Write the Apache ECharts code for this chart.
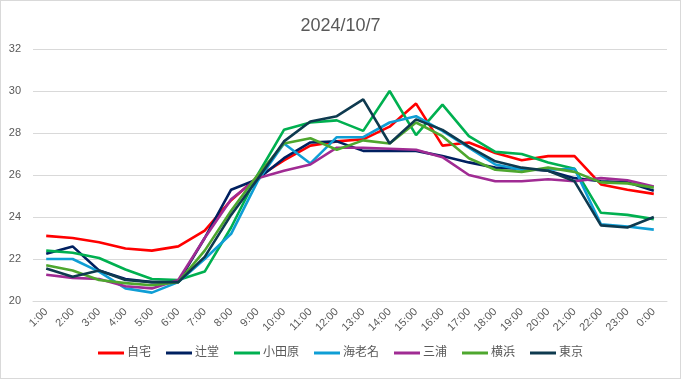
<!DOCTYPE html>
<html><head><meta charset="utf-8">
<script src="https://cdn.jsdelivr.net/npm/echarts@6/dist/echarts.min.js"></script>
<style>html,body{margin:0;padding:0;background:#fff}#c{width:681px;height:379px;box-sizing:border-box;border:1px solid #d9d9d9}</style>
</head><body><div id="c"></div>
<script>
const hours = ['1:00','2:00','3:00','4:00','5:00','6:00','7:00','8:00','9:00','10:00','11:00','12:00','13:00','14:00','15:00','16:00','17:00','18:00','19:00','20:00','21:00','22:00','23:00','0:00'];
const jitaku   = [23.1,23.0,22.8,22.5,22.4,22.6,23.35,24.8,25.9,26.7,27.4,27.6,27.7,28.3,29.4,27.4,27.55,27.05,26.7,26.9,26.9,25.55,25.3,25.1];
const tsujido  = [22.25,22.6,21.45,21.05,20.9,20.9,23.0,25.3,25.8,26.8,27.55,27.6,27.15,27.15,27.15,26.9,26.6,26.35,26.3,26.2,25.85,25.7,25.65,25.25];
const odawara  = [22.4,22.3,22.05,21.5,21.05,21.0,21.4,23.5,26.0,28.15,28.5,28.6,28.1,30.0,27.9,29.35,27.85,27.1,27.0,26.6,26.3,24.2,24.1,23.9];
const ebina    = [22.0,22.0,21.4,20.6,20.4,20.9,22.0,23.2,25.7,27.5,26.55,27.8,27.8,28.5,28.8,28.1,27.3,26.5,26.25,26.25,26.3,23.65,23.55,23.4];
const miura    = [21.25,21.1,21.05,20.7,20.6,21.0,23.0,24.85,25.85,26.2,26.5,27.3,27.3,27.25,27.2,26.85,26.0,25.7,25.7,25.8,25.7,25.85,25.75,25.45];
const yokohama = [21.7,21.45,21.0,20.85,20.75,20.9,22.4,24.3,26.0,27.5,27.75,27.2,27.65,27.5,28.5,27.85,26.8,26.25,26.15,26.35,26.15,25.65,25.6,25.4];
const tokyo    = [21.55,21.15,21.45,21.0,20.9,20.9,22.1,24.1,25.8,27.6,28.55,28.8,29.6,27.5,28.65,28.15,27.35,26.65,26.35,26.2,25.7,23.6,23.5,24.0];
const names  = ['自宅','辻堂','小田原','海老名','三浦','横浜','東京'];
const values = [jitaku,tsujido,odawara,ebina,miura,yokohama,tokyo];
const colors = ['#FF0000','#002060','#00B050','#0F9ED5','#A02B93','#4EA72E','#0E3A4F'];
const yTicks = {min:20,max:32,interval:2};
const FONT = '"Liberation Sans","Noto Sans CJK JP",sans-serif';

const chart = echarts.init(document.getElementById('c'));
chart.setOption({
  animation:false,
  title:{text:'2024/10/7',left:'center',top:11,textStyle:{fontFamily:FONT,fontSize:18,fontWeight:'normal',color:'#595959'}},
  grid:{left:32,right:13,top:48,bottom:77},
  legend:{bottom:14,left:'center',icon:'rect',itemWidth:26,itemHeight:3,itemGap:15,
    textStyle:{fontFamily:FONT,fontSize:12,color:'#595959',padding:[0,0,0,-2]},data:names},
  xAxis:{type:'category',data:hours,boundaryGap:true,
    axisLine:{lineStyle:{color:'#d9d9d9'}},axisTick:{show:false},
    axisLabel:{rotate:45,color:'#595959',fontFamily:FONT,fontSize:11,margin:9,interval:0}},
  yAxis:{type:'value',min:yTicks.min,max:yTicks.max,interval:yTicks.interval,
    axisLine:{show:false},axisTick:{show:false},
    splitLine:{lineStyle:{color:'#d9d9d9'}},
    axisLabel:{color:'#595959',fontFamily:FONT,fontSize:11,margin:12}},
  series:names.map((n,i)=>({name:n,type:'line',data:values[i],symbol:'none',
    lineStyle:{width:2.6,color:colors[i]},itemStyle:{color:colors[i]}}))
});
</script></body></html>
